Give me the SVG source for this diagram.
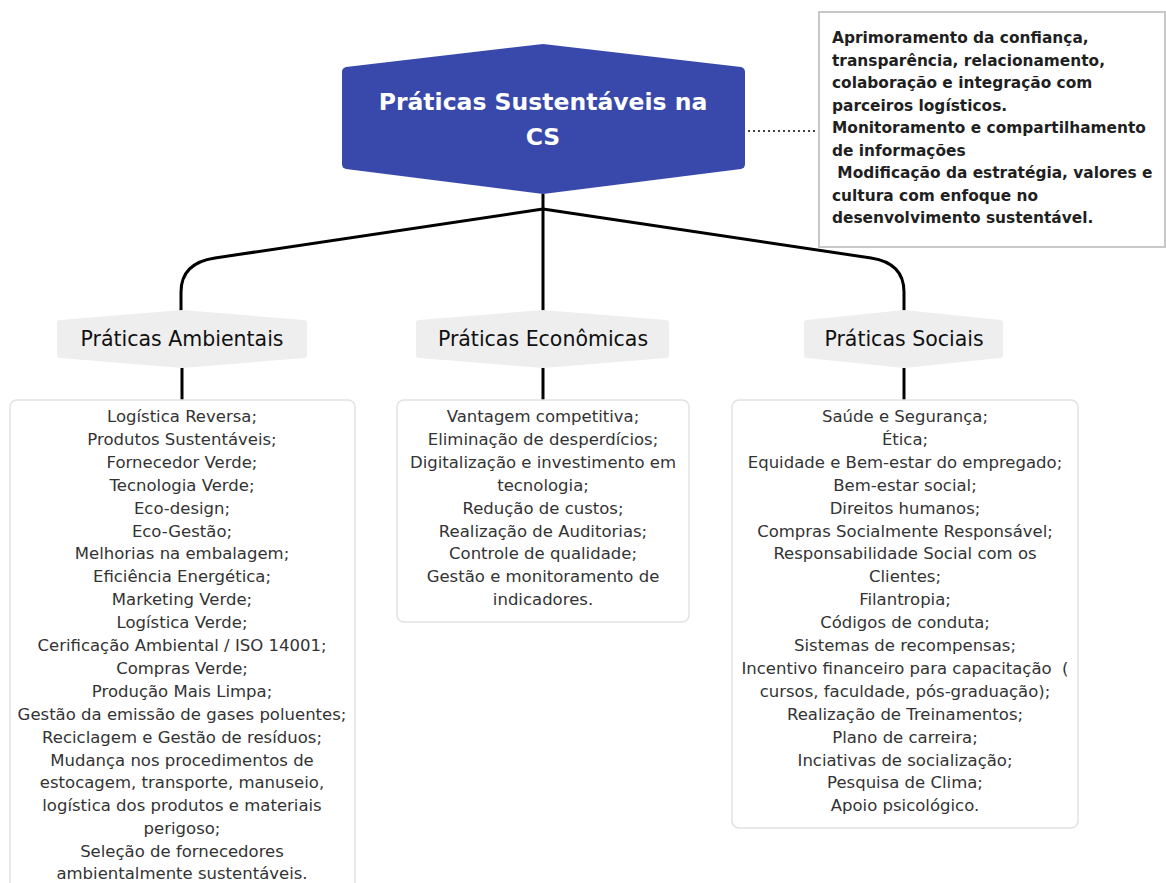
<svg xmlns="http://www.w3.org/2000/svg" width="1166" height="883" viewBox="0 0 1166 883">
<style>
.title{font-family:"DejaVu Sans",sans-serif;font-weight:bold;font-size:23.5px;fill:#ffffff;text-anchor:middle}
.lbl{font-family:"DejaVu Sans",sans-serif;font-size:20.5px;fill:#111111;text-anchor:middle}
.item{font-family:"DejaVu Sans",sans-serif;font-size:16.5px;fill:#333333;text-anchor:middle}
.note{font-family:"DejaVu Sans",sans-serif;font-size:15.4px;font-weight:bold;fill:#1f1f1f}
.conn{fill:none;stroke:#000000;stroke-width:3}
.box{fill:#ffffff;stroke:#e2e2e2;stroke-width:1.5}
.tag{fill:#eeeeee}
</style>
<rect width="1166" height="883" fill="#ffffff"/>
<g id="connectors">
<path class="conn" d="M543,194 L543,318"/>
<path class="conn" d="M543,209 L215,258 Q181,263 181,292 L181,318"/>
<path class="conn" d="M543,209 L871,258 Q904,263 904,292 L904,318"/>
<path class="conn" d="M182,368 L182,400"/>
<path class="conn" d="M543,368 L543,400"/>
<path class="conn" d="M904,368 L904,400"/>
<path d="M748,131 L815,131" fill="none" stroke="#444444" stroke-width="2" stroke-dasharray="2,3"/>
</g>
<g id="root">
<path d="M342,72 Q342,68 346,67 L543,44 L741,67 Q745,68 745,72 L745,164 Q745,168 741,169 L543,194 L346,169 Q342,168 342,164 Z" fill="#3949ab"/>
<text class="title" x="543" y="110">Práticas Sustentáveis na</text>
<text class="title" x="543" y="145">CS</text>
</g>
<g id="note">
<rect x="819" y="12" width="346" height="235" fill="#ffffff" stroke="#c8c8c8" stroke-width="2"/>
<text class="note" x="832" y="43">Aprimoramento da confiança,</text>
<text class="note" x="832" y="65.5">transparência, relacionamento,</text>
<text class="note" x="832" y="88">colaboração e integração com</text>
<text class="note" x="832" y="110.5">parceiros logísticos.</text>
<text class="note" x="832" y="133">Monitoramento e compartilhamento</text>
<text class="note" x="832" y="155.5">de informações</text>
<text class="note" x="832" y="178" xml:space="preserve"> Modificação da estratégia, valores e</text>
<text class="note" x="832" y="200.5">cultura com enfoque no</text>
<text class="note" x="832" y="223">desenvolvimento sustentável.</text>
</g>
<g id="ambientais">
<path class="tag" d="M57,323 Q57,320 60,320 L182,310 L304,320 Q307,320 307,323 L307,355 Q307,358 304,358 L182,368 L60,358 Q57,358 57,355 Z"/>
<text class="lbl" x="182" y="346">Práticas Ambientais</text>
</g>
<g id="economicas">
<path class="tag" d="M416,323 Q416,320 419,320 L543,310 L666,320 Q669,320 669,323 L669,355 Q669,358 666,358 L543,368 L419,358 Q416,358 416,355 Z"/>
<text class="lbl" x="543" y="346">Práticas Econômicas</text>
</g>
<g id="sociais">
<path class="tag" d="M804,323 Q804,320 807,320 L904,310 L1000,320 Q1003,320 1003,323 L1003,355 Q1003,358 1000,358 L904,368 L807,358 Q804,358 804,355 Z"/>
<text class="lbl" x="904" y="346">Práticas Sociais</text>
</g>
<g id="ambientais-lista">
<rect class="box" x="10" y="400" width="345" height="500" rx="7"/>
<text class="item" x="182" y="422">Logística Reversa;</text>
<text class="item" x="182" y="444.9">Produtos Sustentáveis;</text>
<text class="item" x="182" y="467.8">Fornecedor Verde;</text>
<text class="item" x="182" y="490.7">Tecnologia Verde;</text>
<text class="item" x="182" y="513.6">Eco-design;</text>
<text class="item" x="182" y="536.5">Eco-Gestão;</text>
<text class="item" x="182" y="559.4">Melhorias na embalagem;</text>
<text class="item" x="182" y="582.3">Eficiência Energética;</text>
<text class="item" x="182" y="605.2">Marketing Verde;</text>
<text class="item" x="182" y="628.1">Logística Verde;</text>
<text class="item" x="182" y="651">Cerificação Ambiental / ISO 14001;</text>
<text class="item" x="182" y="673.9">Compras Verde;</text>
<text class="item" x="182" y="696.8">Produção Mais Limpa;</text>
<text class="item" x="182" y="719.7">Gestão da emissão de gases poluentes;</text>
<text class="item" x="182" y="742.6">Reciclagem e Gestão de resíduos;</text>
<text class="item" x="182" y="765.5">Mudança nos procedimentos de</text>
<text class="item" x="182" y="788.4">estocagem, transporte, manuseio,</text>
<text class="item" x="182" y="811.3">logística dos produtos e materiais</text>
<text class="item" x="182" y="834.2">perigoso;</text>
<text class="item" x="182" y="857.1">Seleção de fornecedores</text>
<text class="item" x="182" y="879">ambientalmente sustentáveis.</text>
</g>
<g id="economicas-lista">
<rect class="box" x="397" y="400" width="292" height="222" rx="7"/>
<text class="item" x="543" y="422">Vantagem competitiva;</text>
<text class="item" x="543" y="444.9">Eliminação de desperdícios;</text>
<text class="item" x="543" y="467.8">Digitalização e investimento em</text>
<text class="item" x="543" y="490.7">tecnologia;</text>
<text class="item" x="543" y="513.6">Redução de custos;</text>
<text class="item" x="543" y="536.5">Realização de Auditorias;</text>
<text class="item" x="543" y="559.4">Controle de qualidade;</text>
<text class="item" x="543" y="582.3">Gestão e monitoramento de</text>
<text class="item" x="543" y="605.2">indicadores.</text>
</g>
<g id="sociais-lista">
<rect class="box" x="732" y="400" width="346" height="428" rx="7"/>
<text class="item" x="905" y="422">Saúde e Segurança;</text>
<text class="item" x="905" y="444.9">Ética;</text>
<text class="item" x="905" y="467.8">Equidade e Bem-estar do empregado;</text>
<text class="item" x="905" y="490.7">Bem-estar social;</text>
<text class="item" x="905" y="513.6">Direitos humanos;</text>
<text class="item" x="905" y="536.5">Compras Socialmente Responsável;</text>
<text class="item" x="905" y="559.4">Responsabilidade Social com os</text>
<text class="item" x="905" y="582.3">Clientes;</text>
<text class="item" x="905" y="605.2">Filantropia;</text>
<text class="item" x="905" y="628.1">Códigos de conduta;</text>
<text class="item" x="905" y="651">Sistemas de recompensas;</text>
<text class="item" x="905" y="673.9" xml:space="preserve">Incentivo financeiro para capacitação  (</text>
<text class="item" x="905" y="696.8">cursos, faculdade, pós-graduação);</text>
<text class="item" x="905" y="719.7">Realização de Treinamentos;</text>
<text class="item" x="905" y="742.6">Plano de carreira;</text>
<text class="item" x="905" y="765.5">Inciativas de socialização;</text>
<text class="item" x="905" y="788.4">Pesquisa de Clima;</text>
<text class="item" x="905" y="811.3">Apoio psicológico.</text>
</g>
</svg>
